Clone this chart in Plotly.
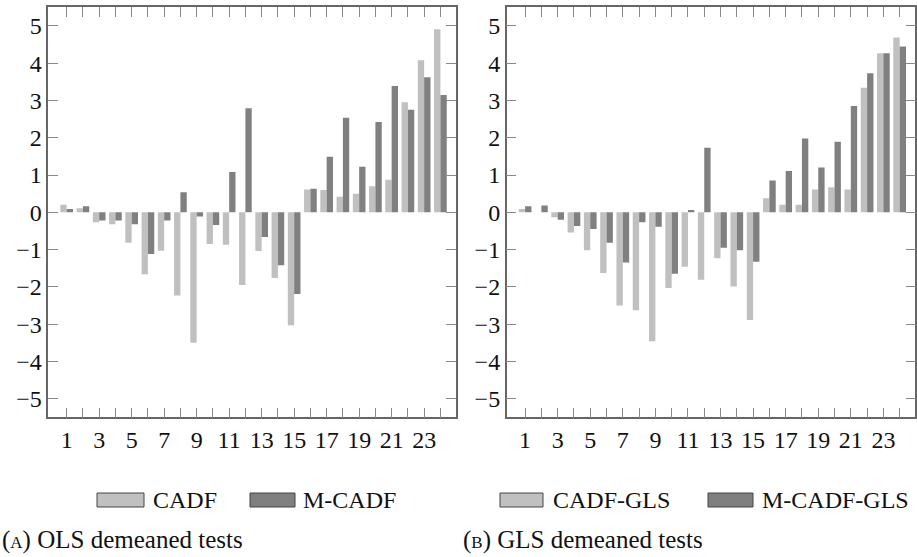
import plotly.graph_objects as go

# ---------------- data ----------------
categories = list(range(1, 25))

cadf = [0.20, 0.11, -0.27, -0.32, -0.82, -1.66, -1.03, -2.23, -3.50, -0.85, -0.87, -1.95,
        -1.04, -1.76, -3.03, 0.61, 0.60, 0.42, 0.50, 0.70, 0.87, 2.95, 4.08, 4.91]
m_cadf = [0.09, 0.16, -0.22, -0.22, -0.32, -1.12, -0.22, 0.54, -0.11, -0.34, 1.08, 2.79,
          -0.66, -1.42, -2.19, 0.63, 1.49, 2.54, 1.22, 2.42, 3.39, 2.75, 3.62, 3.15]

cadf_gls = [0.09, 0.00, -0.13, -0.54, -1.02, -1.63, -2.50, -2.63, -3.46, -2.03, -1.46, -1.81,
            -1.23, -1.99, -2.89, 0.38, 0.20, 0.20, 0.61, 0.67, 0.61, 3.34, 4.27, 4.69]
m_cadf_gls = [0.16, 0.18, -0.20, -0.37, -0.45, -0.82, -1.35, -0.27, -0.39, -1.65, 0.06, 1.73,
              -0.95, -1.02, -1.33, 0.85, 1.11, 1.98, 1.20, 1.89, 2.85, 3.73, 4.27, 4.45]

x_tickvals = list(range(1, 25))
x_ticktext = [str(v) if v % 2 == 1 else "" for v in x_tickvals]
y_tickvals = list(range(-5, 6))
y_ticktext = [("\u2212" + str(-v)) if v < 0 else str(v) for v in y_tickvals]

series_names = ["CADF", "M-CADF", "CADF-GLS", "M-CADF-GLS"]
captions = ["(<span style='font-size:17px'>A</span>) OLS demeaned tests",
            "(<span style='font-size:17px'>B</span>) GLS demeaned tests"]

# ---------------- style ----------------
W, H = 917, 557
LIGHT = "#c0c0c0"
DARK = "#808080"
FONT = "Liberation Serif"
TXT = "#111111"

fig = go.Figure()
fig.add_trace(go.Bar(x=categories, y=cadf, name=series_names[0], marker=dict(color=LIGHT, line=dict(width=0)),
                     xaxis="x", yaxis="y", showlegend=False))
fig.add_trace(go.Bar(x=categories, y=m_cadf, name=series_names[1], marker=dict(color=DARK, line=dict(width=0)),
                     xaxis="x", yaxis="y", showlegend=False))
fig.add_trace(go.Bar(x=categories, y=cadf_gls, name=series_names[2], marker=dict(color=LIGHT, line=dict(width=0)),
                     xaxis="x2", yaxis="y2", showlegend=False))
fig.add_trace(go.Bar(x=categories, y=m_cadf_gls, name=series_names[3], marker=dict(color=DARK, line=dict(width=0)),
                     xaxis="x2", yaxis="y2", showlegend=False))


def px_x(p):
    return p / W


def px_y(p):
    return (H - p) / H


ydom = [px_y(417.3), px_y(7.3)]
xdom1 = [px_x(48.3), px_x(456.0)]
xdom2 = [px_x(506.7), px_x(915.3)]


def xaxis_cfg(dom, anchor):
    return dict(domain=dom, anchor=anchor, range=[-0.13, 24.96], tickmode="array",
                tickvals=x_tickvals, ticktext=x_ticktext,
                ticks="inside", ticklen=10, tickwidth=1, tickcolor="#8a8a8a",
                showline=True, linecolor="#666666", linewidth=1.5, mirror="ticks",
                showgrid=False, zeroline=False,
                tickfont=dict(family="Liberation Serif", size=24, color=TXT))


def yaxis_cfg(anchor):
    return dict(domain=ydom, anchor=anchor, range=[-5.5, 5.5], tickmode="array",
                tickvals=y_tickvals, ticktext=y_ticktext,
                ticks="inside", ticklen=10, tickwidth=1, tickcolor="#8a8a8a",
                showline=True, linecolor="#666666", linewidth=1.5, mirror="ticks",
                showgrid=False, zeroline=False,
                tickfont=dict(family="Liberation Serif", size=24, color=TXT))


fig.update_layout(
    width=W, height=H,
    margin=dict(l=0, r=0, t=0, b=0),
    paper_bgcolor="white", plot_bgcolor="white",
    font=dict(family=FONT, size=24, color=TXT),
    barmode="group", bargap=0.22, bargroupgap=0.0,
    xaxis=xaxis_cfg(xdom1, "y"),
    yaxis=yaxis_cfg("x"),
    xaxis2=xaxis_cfg(xdom2, "y2"),
    yaxis2=yaxis_cfg("x2"),
)

# ---------------- custom legends ----------------
legend_items = [
    (97, 144, LIGHT, series_names[0], 151),
    (250, 295, DARK, series_names[1], 301),
    (500, 543, LIGHT, series_names[2], 551),
    (708, 753, DARK, series_names[3], 760),
]
for x0, x1, col, label, tx in legend_items:
    fig.add_shape(type="rect", xref="paper", yref="paper",
                  x0=px_x(x0), x1=px_x(x1), y0=px_y(507), y1=px_y(493),
                  fillcolor=col, line=dict(color="#444444", width=1))
    fig.add_annotation(xref="paper", yref="paper", x=px_x(tx), y=px_y(500),
                       xanchor="left", yanchor="middle", text=label, showarrow=False,
                       font=dict(family=FONT, size=24, color=TXT))

# ---------------- captions ----------------
for cx, cap in zip([0, 461], captions):
    fig.add_annotation(xref="paper", yref="paper", x=px_x(cx), y=px_y(540),
                       xanchor="left", yanchor="middle", text=cap, showarrow=False,
                       font=dict(family=FONT, size=25, color=TXT))

fig.write_html("out.html")
